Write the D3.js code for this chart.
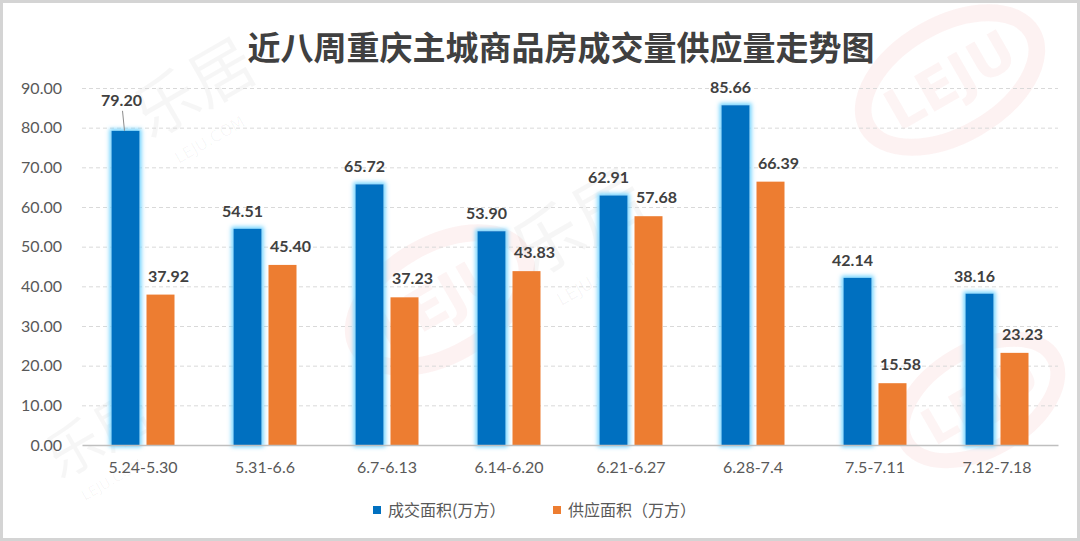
<!DOCTYPE html>
<html><head><meta charset="utf-8">
<script src="https://cdn.jsdelivr.net/npm/d3@7/dist/d3.min.js"></script>
<style>html,body{margin:0;padding:0;background:#fff;}svg{display:block;}</style>
</head><body>
<script>
const categories = ["5.24-5.30","5.31-6.6","6.7-6.13","6.14-6.20","6.21-6.27","6.28-7.4","7.5-7.11","7.12-7.18"];
const dealArea = [79.20,54.51,65.72,53.90,62.91,85.66,42.14,38.16];
const supplyArea = [37.92,45.40,37.23,43.83,57.68,66.39,15.58,23.23];
const yTicks = [0,10,20,30,40,50,60,70,80,90];
const seriesNames = ["成交面积(万方）","供应面积（万方）"];
const title = "近八周重庆主城商品房成交量供应量走势图";

const W=1080,H=541;
const svg=d3.select("body").append("svg").attr("width",W).attr("height",H);
const defs=svg.append("defs");
const f=defs.append("filter").attr("id","glow").attr("x","-50%").attr("y","-10%").attr("width","200%").attr("height","120%");
f.append("feMorphology").attr("in","SourceAlpha").attr("operator","dilate").attr("radius",2).attr("result","d");
f.append("feGaussianBlur").attr("in","d").attr("stdDeviation",2).attr("result","b");
f.append("feFlood").attr("flood-color","#6fd3ff").attr("result","c");
f.append("feComposite").attr("in","c").attr("in2","b").attr("operator","in").attr("result","g");
const m=f.append("feMerge");m.append("feMergeNode").attr("in","g");m.append("feMergeNode").attr("in","SourceGraphic");

svg.append("rect").attr("width",W).attr("height",H).attr("fill","#fff");

// faint watermarks (kept inside the frame)
const wm=svg.append("g").attr("pointer-events","none");
function logo(cx,cy,rx,ry,rot,fs){
  const g=wm.append("g").attr("transform",`translate(${cx},${cy}) rotate(${rot})`);
  g.append("ellipse").attr("rx",rx).attr("ry",ry).attr("fill","none").attr("stroke","rgba(225,70,70,0.07)").attr("stroke-width",fs*0.3);
  g.append("text").attr("text-anchor","middle").attr("dy","0.35em").attr("font-family","DejaVu Sans").attr("font-weight","bold").attr("font-size",fs).attr("fill","rgba(225,70,70,0.06)").text("LEJU");
}
function mark(x,y,rot,fs){
  const g=wm.append("g").attr("transform",`translate(${x},${y}) rotate(${rot})`);
  g.append("text").attr("font-family","Noto Sans CJK SC").attr("font-size",fs).attr("fill","rgba(0,0,0,0.035)").text("乐居");
  g.append("text").attr("y",fs*0.55).attr("x",fs*0.2).attr("font-family","DejaVu Sans").attr("font-size",fs*0.25).attr("fill","rgba(0,0,0,0.035)").text("LEJU.COM");
}
logo(950,80,95,55,-30,56);
logo(440,300,95,55,-30,56);
logo(980,400,85,50,-30,50);
mark(150,140,-30,64);
mark(530,280,-30,70);
mark(60,480,-30,56);

const x0=82,x1=1058,yTop=88,yBot=445;
const x=d3.scaleBand().domain(categories).range([x0,x1]);
const y=d3.scaleLinear().domain([0,90]).range([yBot,yTop]);
const bw=28,gap=7;

// grid
svg.append("g").selectAll("line").data(yTicks.filter(d=>d>0)).join("line")
  .attr("x1",x0).attr("x2",x1).attr("y1",d=>y(d)+0.5).attr("y2",d=>y(d)+0.5)
  .attr("stroke","#d9d9d9").attr("stroke-dasharray","4,3");

// y axis
const ya=svg.append("g").attr("transform",`translate(${x0-20},0)`).call(d3.axisLeft(y).tickValues(yTicks).tickFormat(d3.format(".2f")).tickSize(0).tickPadding(0));
ya.select(".domain").remove();
ya.selectAll("text").attr("font-family","Lato").attr("font-size",16).attr("fill","#595959");

// x axis
const xa=svg.append("g").attr("transform",`translate(0,${yBot})`).call(d3.axisBottom(x).tickSize(0).tickPadding(17));
xa.select(".domain").attr("stroke","#bfbfbf").attr("stroke-width",1.5);
xa.selectAll("text").attr("font-family","Lato").attr("font-size",16).attr("fill","#595959");

const cx=c=>x(c)+x.bandwidth()/2;
// bars
svg.append("g").selectAll("rect").data(categories).join("rect")
  .attr("x",(c)=>cx(c)-bw-gap/2).attr("width",bw)
  .attr("y",(c,i)=>y(dealArea[i])).attr("height",(c,i)=>yBot-y(dealArea[i]))
  .attr("fill","#0070C0").attr("filter","url(#glow)");
svg.append("g").selectAll("rect").data(categories).join("rect")
  .attr("x",(c)=>cx(c)+gap/2).attr("width",bw)
  .attr("y",(c,i)=>y(supplyArea[i])).attr("height",(c,i)=>yBot-y(supplyArea[i]))
  .attr("fill","#ED7D31");
xa.raise();

// labels
const lab=svg.append("g").attr("font-family","Lato").attr("font-weight","bold").attr("font-size",16).attr("fill","#404040");
categories.forEach((c,i)=>{
  const bc=cx(c)-bw/2-gap/2;
  if(i===0){
    lab.append("text").attr("x",bc-4).attr("y",y(dealArea[i])-25).attr("text-anchor","middle").text(dealArea[i].toFixed(2));
    svg.append("line").attr("x1",bc-3).attr("y1",y(dealArea[i])-20).attr("x2",bc-1).attr("y2",y(dealArea[i])).attr("stroke","#8c8c8c").attr("stroke-width",1);
  } else {
    lab.append("text").attr("x",bc-5).attr("y",y(dealArea[i])-12).attr("text-anchor","middle").text(dealArea[i].toFixed(2));
  }
  const oc=cx(c)+gap/2+bw/2;
  lab.append("text").attr("x",oc+8).attr("y",y(supplyArea[i])-13).attr("text-anchor","middle").text(supplyArea[i].toFixed(2));
});

// title
svg.append("text").attr("x",561).attr("y",60).attr("text-anchor","middle")
  .attr("font-family","Noto Sans CJK SC").attr("font-weight","bold").attr("font-size",33)
  .attr("fill","#404040").text(title);

// legend
const lg=svg.append("g");
const lx=[373,553],cols=["#0070C0","#ED7D31"];
seriesNames.forEach((n,i)=>{
  lg.append("rect").attr("x",lx[i]).attr("y",506).attr("width",8).attr("height",8).attr("fill",cols[i]);
  lg.append("text").attr("x",lx[i]+15).attr("y",516).attr("font-family","Noto Sans CJK SC").attr("font-size",16).attr("fill","#595959").text(n);
});

// border
svg.append("rect").attr("x",1.5).attr("y",1.5).attr("width",W-3).attr("height",H-3).attr("fill","none").attr("stroke","#d4d4d4").attr("stroke-width",3);
</script>
</body></html>
